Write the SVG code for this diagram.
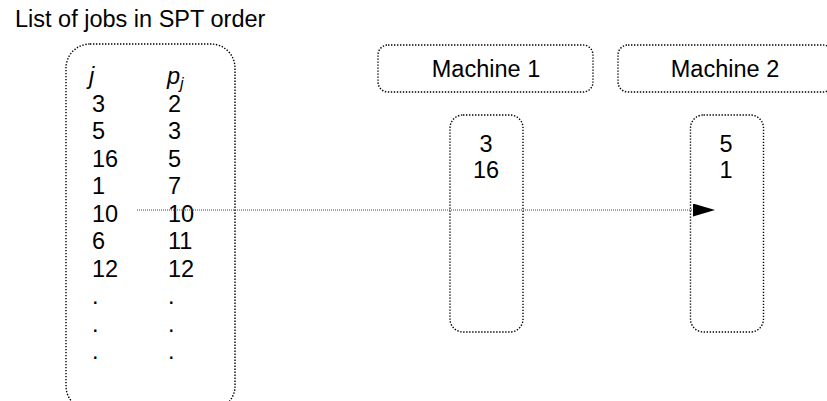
<svg xmlns="http://www.w3.org/2000/svg" width="827" height="401" viewBox="0 0 827 401">
<defs>
<style>
text{font-family:"Liberation Sans",Arial,sans-serif;font-size:23.5px;fill:#000}
.box{fill:none;stroke:#000;stroke-width:1.4;stroke-dasharray:1.4 1.6}
.conn{fill:none;stroke:#444;stroke-width:1;stroke-dasharray:1 1}
.it{font-style:italic}
.mid{text-anchor:middle}
</style>
<marker id="ah" markerUnits="userSpaceOnUse" markerWidth="23" markerHeight="14" refX="0" refY="6.5" orient="auto">
<path d="M0,0 L22,6.5 L0,13 z" fill="#000"/>
</marker>
</defs>
<rect width="827" height="401" fill="#fff"/>
<g id="title"><text x="15" y="27">List of jobs in SPT order</text></g>
<g id="job-list">
<rect class="box" x="66" y="44" width="169" height="366" rx="24" ry="24"/>
<text x="89" y="84" class="it">j</text>
<text x="167" y="84" class="it">p<tspan font-size="16" dy="5">j</tspan></text>
<text x="92" y="111.5">3</text><text x="168" y="111.5">2</text>
<text x="92" y="139">5</text><text x="168" y="139">3</text>
<text x="92" y="166.5">16</text><text x="168" y="166.5">5</text>
<text x="92" y="194">1</text><text x="168" y="194">7</text>
<text x="92" y="221.5">10</text><text x="168" y="221.5">10</text>
<text x="92" y="249">6</text><text x="168" y="249">11</text>
<text x="92" y="276.5">12</text><text x="168" y="276.5">12</text>
<text x="92" y="304">.</text><text x="168" y="304">.</text>
<text x="92" y="331.5">.</text><text x="168" y="331.5">.</text>
<text x="92" y="359">.</text><text x="168" y="359">.</text>
</g>
<g id="machine1-header">
<rect class="box" x="378" y="45" width="215" height="47" rx="10" ry="10"/>
<text x="486" y="77" class="mid">Machine 1</text>
</g>
<g id="machine2-header">
<rect class="box" x="618" y="45" width="215" height="47" rx="10" ry="10"/>
<text x="725" y="77" class="mid">Machine 2</text>
</g>
<g id="machine1-queue">
<rect class="box" x="450" y="115" width="73" height="217" rx="13" ry="13"/>
<text x="486" y="152" class="mid">3</text>
<text x="486" y="178" class="mid">16</text>
</g>
<g id="machine2-queue">
<rect class="box" x="690.5" y="115" width="73" height="217" rx="13" ry="13"/>
<text x="726" y="152" class="mid">5</text>
<text x="726" y="178" class="mid">1</text>
</g>
<g id="connectors">
<line class="conn" x1="137" y1="210" x2="693" y2="210" marker-end="url(#ah)"/>
</g>
</svg>
